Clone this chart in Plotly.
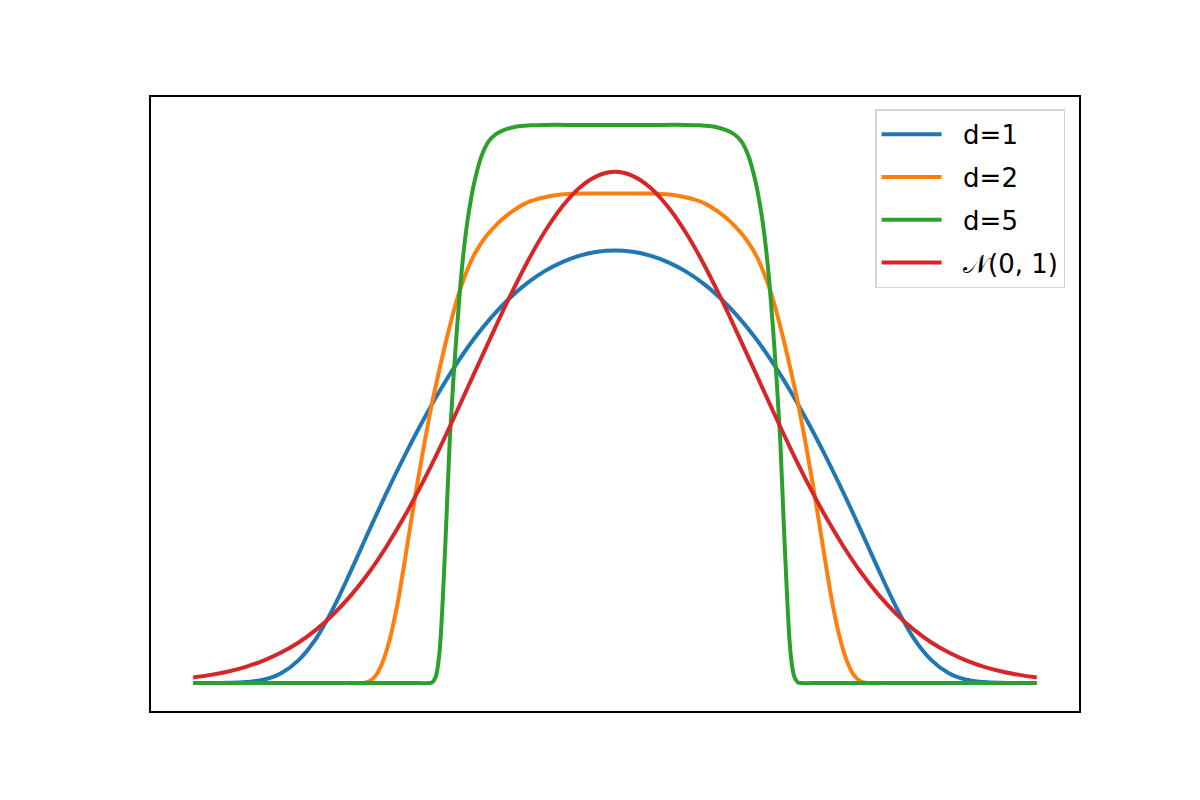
import plotly.graph_objects as go

# values (x in std units, y in density units)
x_q = [-3.0, -2.875, -2.75, -2.625, -2.5, -2.375, -2.25, -2.125, -2.0, -1.875, -1.75, -1.625,
       -1.5, -1.375, -1.25, -1.125, -1.0, -0.875, -0.75, -0.625, -0.5, -0.375, -0.25, -0.125, 0.0,
       0.125, 0.25, 0.375, 0.5, 0.625, 0.75, 0.875, 1.0, 1.125, 1.25, 1.375, 1.5, 1.625,
       1.75, 1.875, 2.0, 2.125, 2.25, 2.375, 2.5, 2.625, 2.75, 2.875, 3.0]

d1 = [0.0, 0.0, 0.0002, 0.0008, 0.0026, 0.0076, 0.0179, 0.0349, 0.0593, 0.0883, 0.1188, 0.1484,
      0.1765, 0.2029, 0.2273, 0.2494, 0.269, 0.2859, 0.3002, 0.312, 0.3214, 0.3285, 0.3335, 0.3365, 0.3375,
      0.3365, 0.3335, 0.3285, 0.3214, 0.312, 0.3002, 0.2859, 0.269, 0.2494, 0.2273, 0.2029, 0.1765, 0.1484,
      0.1188, 0.0883, 0.0593, 0.0349, 0.0179, 0.0076, 0.0026, 0.0008, 0.0002, 0.0, 0.0]

normal = [0.0044, 0.0064, 0.0091, 0.0127, 0.0175, 0.0238, 0.0317, 0.0417, 0.054, 0.0688, 0.0863, 0.1066,
          0.1295, 0.155, 0.1826, 0.2119, 0.242, 0.2719, 0.3011, 0.3282, 0.3521, 0.3718, 0.3867, 0.3958, 0.3989,
          0.3958, 0.3867, 0.3718, 0.3521, 0.3282, 0.3011, 0.2719, 0.242, 0.2119, 0.1826, 0.155, 0.1295, 0.1066,
          0.0863, 0.0688, 0.054, 0.0417, 0.0317, 0.0238, 0.0175, 0.0127, 0.0091, 0.0064, 0.0044]

x_d2 = [-3.0, -2.5, -2.0, -1.9, -1.8, -1.75, -1.7, -1.65, -1.6, -1.55, -1.5, -1.45, -1.4, -1.35,
        -1.3, -1.25, -1.2, -1.15, -1.1, -1.05, -1.0, -0.95, -0.9, -0.85, -0.8, -0.75, -0.7, -0.65,
        -0.6, -0.55, -0.5, -0.45, -0.4, -0.35, -0.3, -0.25, -0.2, -0.15, -0.1, -0.05, 0.0,
        0.05, 0.1, 0.15, 0.2, 0.25, 0.3, 0.35, 0.4, 0.45, 0.5, 0.55, 0.6, 0.65, 0.7, 0.75,
        0.8, 0.85, 0.9, 0.95, 1.0, 1.05, 1.1, 1.15, 1.2, 1.25, 1.3, 1.35, 1.4, 1.45, 1.5,
        1.55, 1.6, 1.65, 1.7, 1.75, 1.8, 1.9, 2.0, 2.5, 3.0]
d2 = [0.0, 0.0, 0.0, 0.0, 0.0, 0.0012, 0.006, 0.017, 0.035, 0.060, 0.092, 0.1265, 0.1595, 0.1905,
      0.219, 0.244, 0.2675, 0.289, 0.3075, 0.3225, 0.3345, 0.3435, 0.3508, 0.3568, 0.362, 0.3665, 0.3703, 0.3735,
      0.376, 0.3777, 0.3791, 0.3802, 0.381, 0.3814, 0.3817, 0.3819, 0.382, 0.382, 0.382, 0.382, 0.382,
      0.382, 0.382, 0.382, 0.382, 0.3819, 0.3817, 0.3814, 0.381, 0.3802, 0.3791, 0.3777, 0.376, 0.3735, 0.3703, 0.3665,
      0.362, 0.3568, 0.3508, 0.3435, 0.3345, 0.3225, 0.3075, 0.289, 0.2675, 0.244, 0.219, 0.1905, 0.1595, 0.1265, 0.092,
      0.060, 0.035, 0.017, 0.006, 0.0012, 0.0, 0.0, 0.0, 0.0, 0.0]

x_d5 = [-3.0, -2.5, -2.0, -1.4, -1.325, -1.3, -1.275, -1.25, -1.225, -1.2, -1.175, -1.15, -1.125, -1.1,
        -1.075, -1.05, -1.025, -1.0, -0.95, -0.9, -0.85, -0.8, -0.7, -0.6, -0.5, -0.25, 0.0,
        0.25, 0.5, 0.6, 0.7, 0.8, 0.85, 0.9, 0.95, 1.0, 1.025, 1.05, 1.075, 1.1, 1.125, 1.15,
        1.175, 1.2, 1.225, 1.25, 1.275, 1.3, 1.325, 1.4, 2.0, 2.5, 3.0]
d5 = [0.0, 0.0, 0.0, 0.0, 0.0, 0.0005, 0.005, 0.022, 0.065, 0.125, 0.190, 0.236, 0.275, 0.310,
      0.338, 0.360, 0.377, 0.391, 0.411, 0.4225, 0.428, 0.431, 0.4343, 0.4352, 0.4355, 0.4355, 0.4355,
      0.4355, 0.4355, 0.4352, 0.4343, 0.431, 0.428, 0.4225, 0.411, 0.391, 0.377, 0.360, 0.338, 0.310,
      0.275, 0.236, 0.190, 0.125, 0.065, 0.022, 0.005, 0.0005, 0.0, 0.0, 0.0, 0.0, 0.0]

labels = ["d=1", "d=2", "d=5", "𝒩(0, 1)"]
colors = ["#1f77b4", "#ff7f0e", "#2ca02c", "#d62728"]
xs = [x_q, x_d2, x_d5, x_q]
ys = [d1, d2, d5, normal]

fig = go.Figure()
for i in range(4):
    fig.add_trace(go.Scatter(
        x=xs[i], y=ys[i], name="\u00a0\u00a0" + labels[i], mode="lines", legendgroup=str(i),
        line=dict(color=colors[i], width=4, shape="spline", smoothing=1)))

ymax = 0.4355
fig.update_layout(
    width=1200, height=800,
    margin=dict(l=143, r=129, t=89, b=97),
    paper_bgcolor="white", plot_bgcolor="white",
    font=dict(family="DejaVu Sans", size=26, color="black"),
    showlegend=True,
    legend=dict(
        x=0.985, y=0.980, xanchor="right", yanchor="top",
        bgcolor="rgba(255,255,255,0.8)", bordercolor="#d5d5d5", borderwidth=1.5,
        font=dict(size=26), tracegroupgap=6, itemwidth=60,
    ),
)
fig.update_xaxes(range=[-3.3, 3.3], showgrid=False, zeroline=False, showticklabels=False,
                 ticks="", showline=True, linecolor="black", linewidth=1.5, mirror=True)
fig.update_yaxes(range=[-0.05 * ymax, 1.05 * ymax], showgrid=False, zeroline=False,
                 showticklabels=False, ticks="", showline=True, linecolor="black",
                 linewidth=1.5, mirror=True)

fig.write_html("out.html")
